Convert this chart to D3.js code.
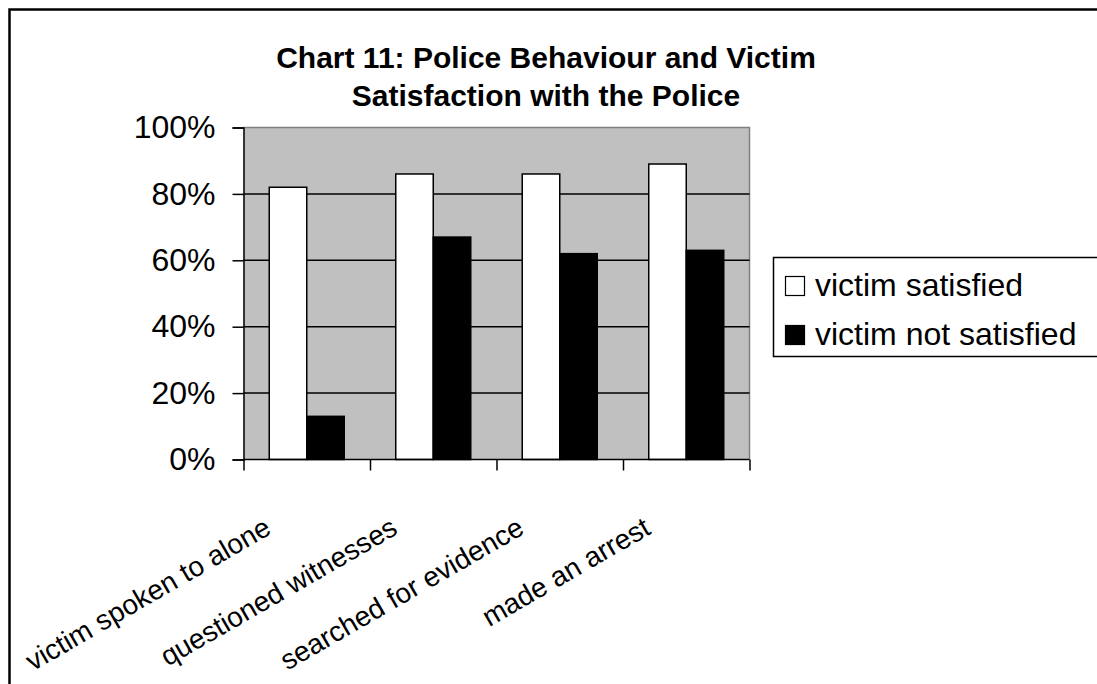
<!DOCTYPE html>
<html>
<head>
<meta charset="utf-8">
<script src="https://cdn.jsdelivr.net/npm/d3@7"></script>
<style>
  body { margin: 0; background: #fff; }
  svg { display: block; }
  text { font-family: Arial, "Liberation Sans", sans-serif; fill: #000; }
</style>
</head>
<body>
<svg id="chart" width="1097" height="684"></svg>
<script>
// Share of victims for each police action, split by satisfaction (percent)
const categories = ["victim spoken to alone", "questioned witnesses", "searched for evidence", "made an arrest"];
const seriesNames = ["victim satisfied", "victim not satisfied"];
const satisfied = [82, 86, 86, 89];
const notSatisfied = [13, 67, 62, 63];
const yTicks = [0, 20, 40, 60, 80, 100];
const titleLines = ["Chart 11: Police Behaviour and Victim", "Satisfaction with the Police"];
const seriesFill = ["#ffffff", "#000000"];

const svg = d3.select("#chart");

// Outer chart frame (runs off the right and bottom of the page)
svg.append("rect")
  .attr("x", 9.5).attr("y", 9.5)
  .attr("width", 1200).attr("height", 800)
  .attr("fill", "none").attr("stroke", "#000").attr("stroke-width", 2.5);

const plot = { left: 243.5, right: 749.5, top: 127.5, bottom: 459.5 };

const x = d3.scaleBand()
  .domain(categories)
  .range([plot.left, plot.right])
  .paddingInner(0.407)
  .paddingOuter(0.2035);

const xSeries = d3.scaleBand()
  .domain(seriesNames)
  .range([0, x.bandwidth()]);

const xEdge = d3.scaleLinear()
  .domain([0, categories.length])
  .range([plot.left, plot.right]);

const y = d3.scaleLinear()
  .domain([0, 100])
  .range([plot.bottom, plot.top]);

// Plot background
svg.append("rect")
  .attr("x", plot.left).attr("y", plot.top)
  .attr("width", plot.right - plot.left).attr("height", plot.bottom - plot.top)
  .attr("fill", "#c0c0c0");

// Top and right border of the plot area
svg.append("path")
  .attr("d", `M${plot.left},${plot.top}H${plot.right}V${plot.bottom}`)
  .attr("fill", "none").attr("stroke", "#808080").attr("stroke-width", 1.5);

// Horizontal gridlines
svg.append("g")
  .selectAll("line")
  .data(yTicks.filter(d => d > 0 && d < 100))
  .join("line")
  .attr("x1", plot.left).attr("x2", plot.right)
  .attr("y1", d => y(d)).attr("y2", d => y(d))
  .attr("stroke", "#000").attr("stroke-width", 1.5);

// Bars
const rows = categories.map((c, i) => ({ cat: c, values: [satisfied[i], notSatisfied[i]] }));
const groups = svg.append("g")
  .selectAll("g")
  .data(rows)
  .join("g")
  .attr("transform", d => `translate(${x(d.cat)},0)`);

groups.selectAll("rect")
  .data(d => d.values.map((v, k) => ({ name: seriesNames[k], value: v, k })))
  .join("rect")
  .attr("x", d => xSeries(d.name))
  .attr("width", xSeries.bandwidth())
  .attr("y", d => y(d.value))
  .attr("height", d => y(0) - y(d.value))
  .attr("fill", d => seriesFill[d.k])
  .attr("stroke", "#000")
  .attr("stroke-width", 1.5);

// Y axis
const yAxis = svg.append("g")
  .attr("transform", `translate(${plot.left},0)`)
  .call(d3.axisLeft(y).tickValues(yTicks).tickFormat(d => d + "%").tickSize(11).tickPadding(17));
yAxis.selectAll("text").attr("font-size", 32).attr("font-family", "Arial, 'Liberation Sans', sans-serif");
yAxis.selectAll("line, path").attr("stroke", "#000").attr("stroke-width", 1.5);

// X axis with ticks between categories
const xAxis = svg.append("g")
  .attr("transform", `translate(0,${plot.bottom})`)
  .call(d3.axisBottom(xEdge).tickValues(d3.range(categories.length + 1)).tickFormat("").tickSize(11));
xAxis.selectAll("line, path").attr("stroke", "#000").attr("stroke-width", 1.5);
xAxis.select(".domain").attr("d", `M${plot.left},0H${plot.right}`);

// Rotated category labels
svg.append("g")
  .selectAll("text")
  .data(categories)
  .join("text")
  .attr("transform", d => `translate(${x(d) + x.bandwidth() / 2 - 34},533) rotate(-30)`)
  .attr("text-anchor", "end")
  .attr("font-size", 28)
  .text(d => d);

// Title
svg.append("g")
  .selectAll("text")
  .data(titleLines)
  .join("text")
  .attr("x", 546)
  .attr("y", (d, i) => 68 + i * 38)
  .attr("text-anchor", "middle")
  .attr("font-size", 30)
  .attr("font-weight", "bold")
  .text(d => d);

// Legend
const legend = svg.append("g");
legend.append("rect")
  .attr("x", 773.5).attr("y", 257.5)
  .attr("width", 400).attr("height", 99)
  .attr("fill", "#fff").attr("stroke", "#000").attr("stroke-width", 1.5);

const items = legend.selectAll("g")
  .data(seriesNames)
  .join("g")
  .attr("transform", (d, i) => `translate(0,${296 + i * 49})`);
items.append("rect")
  .attr("x", 785.5).attr("y", -19.5)
  .attr("width", 19).attr("height", 19)
  .attr("fill", (d, i) => seriesFill[i])
  .attr("stroke", "#000").attr("stroke-width", 1.2);
items.append("text")
  .attr("x", 815).attr("y", 0)
  .attr("font-size", 32)
  .text(d => d);
</script>
</body>
</html>
